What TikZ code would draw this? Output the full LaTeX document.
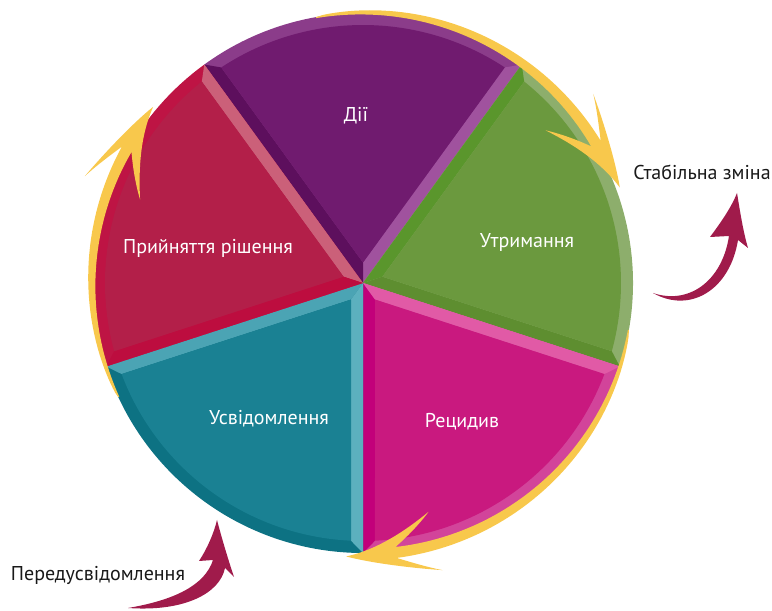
\documentclass[tikz,border=0pt]{standalone}
\usepackage{fontspec}
\setmainfont{PT Sans}
\usetikzlibrary{calc}
\definecolor{purMain}{HTML}{701B6F}
\definecolor{purLight}{HTML}{A0529E}
\definecolor{purDark}{HTML}{5D0F5D}
\definecolor{purArc}{HTML}{8B3C8A}
\definecolor{grnMain}{HTML}{6B993E}
\definecolor{grnDark}{HTML}{5A962C}
\definecolor{grnDark2}{HTML}{5E8E30}
\definecolor{grnArc}{HTML}{8DAE6C}
\definecolor{magMain}{HTML}{C9197F}
\definecolor{magDark}{HTML}{C2007A}
\definecolor{magLight}{HTML}{E15AA6}
\definecolor{magArc}{HTML}{D2449A}
\definecolor{teaMain}{HTML}{1A8193}
\definecolor{teaLight}{HTML}{4BA4B4}
\definecolor{teaLight2}{HTML}{5CB0BE}
\definecolor{teaArc}{HTML}{0D7283}
\definecolor{crmMain}{HTML}{B31F49}
\definecolor{crmLight}{HTML}{CB6079}
\definecolor{crmDark}{HTML}{BD0D3F}
\definecolor{crmArc}{HTML}{BE1444}
\definecolor{goldFill}{HTML}{F8C84C}
\definecolor{maroonArr}{HTML}{A01B4B}
\newcommand\pieSector[6]{%
  \fill[#6] (0,0) -- (#1:270) arc[start angle=#1, end angle=#2, radius=270] -- cycle;
  \fill[#4] (0,0) -- (#1:270) -- ({#1+2.666}:258) -- ({(#1+#2)/2}:20.42) -- cycle;
  \fill[#5] (0,0) -- (#2:270) -- ({#2-2.666}:258) -- ({(#1+#2)/2}:20.42) -- cycle;
  \fill[#3] ({(#1+#2)/2}:20.42) -- ({#1+2.666}:258) arc[start angle={#1+2.666}, end angle={#2-2.666}, radius=258] -- cycle;
}
\newcommand\goldArrow[2]{%
  \fill[goldFill] plot[domain=#1:#2+10.5, samples=50, variable=\t] (\t:{270+7*sqrt(abs((#1-\t)/(#1-(#2)-10.5)))})
    .. controls ({#2+13.5}:284) and ({#2+16.5}:292) .. ({#2+19}:298)
    .. controls ({#2+13}:289) and ({#2+5}:280) .. (#2:274)
    .. controls ({#2+6.5}:267) and ({#2+13}:252) .. ({#2+19.5}:238)
    .. controls ({#2+16}:250) and ({#2+12.5}:260) .. ({#2+10.5}:266)
    -- plot[domain=#2+10.5:#1, samples=50, variable=\t] (\t:{266+3*abs((\t-(#2)-10.5)/(#1-(#2)-10.5))}) -- cycle;
}
\tikzset{
  wlabel/.style={text=white, font=\fontsize{20}{24}\selectfont, inner sep=0pt},
  olabel/.style={text=black!90, font=\fontsize{20}{24}\selectfont, inner sep=0pt},
}
\begin{document}
\begin{tikzpicture}[x=1pt,y=1pt]
\useasboundingbox (0,0) rectangle (772,611);
\coordinate (C) at (363,328);
\begin{scope}[shift={(C)}]
  \pieSector{54}{126}{purMain}{purLight}{purDark}{purArc}
  \pieSector{-18}{54}{grnMain}{grnDark2}{grnDark}{grnArc}
  \pieSector{-90}{-18}{magMain}{magDark}{magLight}{magArc}
  \pieSector{198}{270}{teaMain}{teaLight}{teaLight2}{teaArc}
  \pieSector{126}{198}{crmMain}{crmLight}{crmDark}{crmArc}
  \goldArrow{100}{20.4}
  \goldArrow{205}{140}
  \goldArrow{-10}{-93.5}
\end{scope}
% outside arrows
\coordinate (sTail) at (653,318);
\coordinate (sNL) at (729,375);
\coordinate (sLB) at (710,374);
\coordinate (sTip) at (737,418);
\coordinate (sRB) at (748,363);
\coordinate (sNR) at (738,371);
\fill[maroonArr] (sTail) .. controls (688,306) and (722,329) .. (sNL) -- (sLB)
  .. controls (722,390) and (732,405) .. (sTip)
  .. controls (740,400) and (743,380) .. (sRB) -- (sNR)
  .. controls (730,321) and (690,297) .. (sTail) -- cycle;
\coordinate (pTail) at (128,3);
\coordinate (pNL) at (213,51);
\coordinate (pLB) at (199,50);
\coordinate (pTip) at (217,91);
\coordinate (pRB) at (234,34);
\coordinate (pNR) at (225,43);
\fill[maroonArr] (pTail) .. controls (175,11) and (205,26) .. (pNL) -- (pLB)
  .. controls (207,62) and (214,78) .. (pTip)
  .. controls (222,72) and (228,52) .. (pRB) -- (pNR)
  .. controls (220,18) and (185,-1) .. (pTail) -- cycle;
% labels
\node[wlabel] (dii) at (356,495) {Дії};
\node[wlabel] (utr) at (527,368) {Утримання};
\node[wlabel] (rec) at (462,189) {Рецидив};
\node[wlabel] (usv) at (269,192) {Усвідомлення};
\node[wlabel] (pry) at (208,363) {Прийняття рішення};
\node[olabel] (stab) at (702,439) {Стабільна зміна};
\node[olabel] (pered) at (98,36) {Передусвідомлення};
\end{tikzpicture}
\end{document}
